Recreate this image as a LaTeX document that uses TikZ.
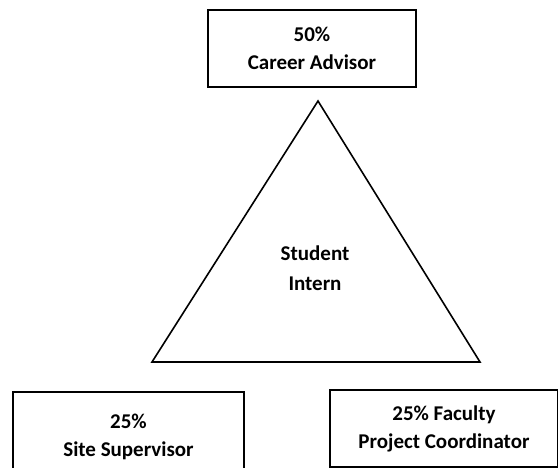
\documentclass[tikz,border=0pt]{standalone}
\usepackage{fontspec}
\setmainfont{Carlito}
\begin{document}
\begin{tikzpicture}[x=1pt,y=-1pt,
  role/.style={draw=black,line width=1.6pt,align=center,font=\fontsize{21}{28}\selectfont\bfseries,inner sep=0pt},
  tri/.style={draw=black,line width=1.6pt,line join=miter}]
\useasboundingbox (0,0) rectangle (558,468);
\node[role,minimum width=208pt,minimum height=77pt] (advisor) at (312,48.5) {50\%\\Career Advisor};
\node[role,minimum width=231pt,minimum height=90pt] (site) at (128.5,437) {25\%\\Site Supervisor};
\node[role,minimum width=228pt,minimum height=77pt] (faculty) at (444,428.5) {25\% Faculty\\Project Coordinator};
\coordinate (apex) at (318,101);
\coordinate (bl) at (152,362);
\coordinate (br) at (480,362);
\draw[tri] (apex) -- (br) -- (bl) -- cycle;
\node[align=center,font=\fontsize{21}{30}\selectfont\bfseries,inner sep=0pt] (student) at (315,268) {Student\\Intern};
\end{tikzpicture}
\end{document}
